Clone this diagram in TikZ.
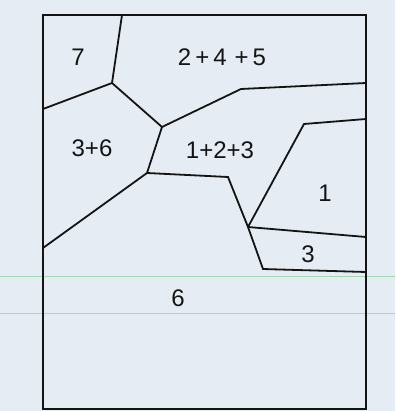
\documentclass[tikz,border=0pt]{standalone}
\usepackage{fontspec}
\setsansfont{Liberation Sans}
\usepackage{tikz}
\usetikzlibrary{calc}
\definecolor{mappaper}{HTML}{E6ECF4}
\definecolor{mapink}{HTML}{141414}
\definecolor{mapgreen}{HTML}{9ED9B0}
\definecolor{maporange}{HTML}{EEBE80}
\tikzset{
  map/edge/.style={draw=mapink, line width=1.8pt, line join=miter},
  map/label/.style={
    text=mapink, inner sep=0pt, font=\sffamily\fontsize{24}{28}\selectfont
  },
  map/rule/.style={line width=1pt}
}

\begin{document}
\begin{tikzpicture}[x=1pt, y=-1pt]
  \useasboundingbox (0,0) rectangle (395,411);
  \fill[mappaper] (0,0) rectangle (395,411);
  \draw[map/rule, mapgreen] (0,276) -- (395,276);
  \draw[map/rule, maporange] (0,313) -- (395,313);

  % junctions
  \coordinate (top) at (122,15);
  \coordinate (ja) at (112,83);
  \coordinate (jb) at (162,127);
  \coordinate (jc) at (147,173);
  \coordinate (jd) at (248,227);
  \coordinate (kb) at (241,89);
  \coordinate (kc) at (228,177);
  \coordinate (kd) at (304,124);
  \coordinate (ke) at (263,269);
  % ends on the frame
  \coordinate (wa) at (43,109);
  \coordinate (wc) at (43,248);
  \coordinate (eb) at (366,83);
  \coordinate (ed) at (366,119);
  \coordinate (ef) at (366,237);
  \coordinate (ee) at (366,272);

  \draw[map/edge] (43,15) rectangle (366,409);
  \draw[map/edge] (top) -- (ja) -- (wa);
  \draw[map/edge] (ja) -- (jb) -- (jc) -- (wc);
  \draw[map/edge] (jb) -- (kb) -- (eb);
  \draw[map/edge] (jc) -- (kc) -- (jd) -- (ke) -- (ee);
  \draw[map/edge] (jd) -- (kd) -- (ed);
  \draw[map/edge] (jd) -- (ef);

  \node[map/label] (lab7) at (78,57) {7};
  \node[map/label] (lab245) at (222,57) {2\,+\,4\,\,+\,5};
  \node[map/label] (lab36) at (92,148) {3+6};
  \node[map/label] (lab123) at (220,150) {1+2+3};
  \node[map/label] (lab1) at (325,193) {1};
  \node[map/label] (lab3) at (308,254) {3};
  \node[map/label] (lab6) at (178,298) {6};
\end{tikzpicture}
\end{document}
